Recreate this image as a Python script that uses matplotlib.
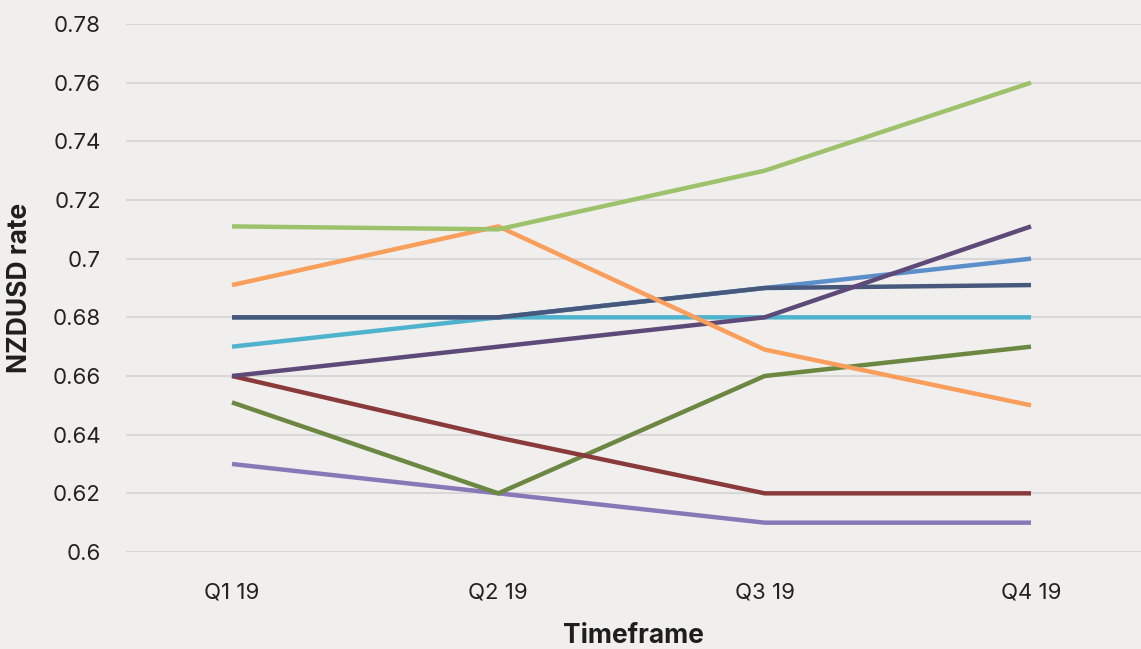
import matplotlib
matplotlib.use("Agg")
import matplotlib.pyplot as plt
from matplotlib.ticker import FuncFormatter

# data
quarters = ["Q1 19", "Q2 19", "Q3 19", "Q4 19"]
light_green = [0.711, 0.710, 0.730, 0.760]
orange = [0.691, 0.711, 0.669, 0.650]
plum = [0.660, 0.670, 0.680, 0.711]
blue = [0.680, 0.680, 0.690, 0.700]
navy = [0.680, 0.680, 0.690, 0.691]
cyan = [0.670, 0.680, 0.680, 0.680]
dark_red = [0.660, 0.639, 0.620, 0.620]
olive = [0.651, 0.620, 0.660, 0.670]
lavender = [0.630, 0.620, 0.610, 0.610]

series = [
    (lavender, "#8878B8"),
    (olive, "#6B8742"),
    (dark_red, "#8B3A3C"),
    (cyan, "#4FB3CE"),
    (blue, "#5B8FC9"),
    (navy, "#46597C"),
    (plum, "#5E4A78"),
    (orange, "#F99E5B"),
    (light_green, "#9DC26B"),
]

plt.rcParams["font.family"] = ["Inter", "DejaVu Sans"]
bg = "#F0EFED"

fig = plt.figure(figsize=(11.41, 6.49), dpi=100, facecolor=bg)
ax = fig.add_axes([126 / 1141, 97 / 649, 1015 / 1141, 528 / 649], facecolor=bg)

x = range(len(quarters))
for vals, col in series:
    ax.plot(x, vals, color=col, lw=3.2, solid_capstyle="butt", zorder=3)

ax.set_ylim(0.6, 0.78)
ax.set_yticks([0.6 + 0.02 * i for i in range(10)])
ax.yaxis.set_major_formatter(FuncFormatter(lambda v, _: f"{v:.2f}".rstrip("0")))
ax.set_xlim(-0.398, 3.413)
ax.set_xticks(list(x))
ax.set_xticklabels(quarters)

ax.grid(axis="y", color="#D9D8D6", lw=1.5, zorder=0)
for s in ax.spines.values():
    s.set_visible(False)
ax.tick_params(axis="both", length=0, labelsize=16, colors="#222222")
ax.tick_params(axis="y", pad=18)
ax.tick_params(axis="x", pad=22)

ax.set_ylabel("NZDUSD rate", fontsize=19, fontweight="bold", color="#1E1E1E", labelpad=14)
ax.set_xlabel("Timeframe", fontsize=19, fontweight="bold", color="#1E1E1E", labelpad=15)

fig.savefig("out.png", dpi=100, facecolor=bg)
